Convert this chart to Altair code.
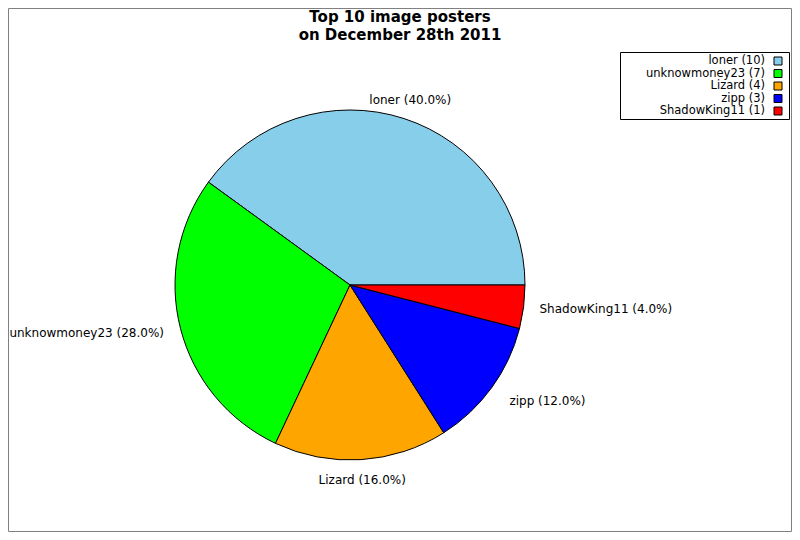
import math
import altair as alt
import pandas as pd

names = ["loner", "unknowmoney23", "Lizard", "zipp", "ShadowKing11"]
counts = [10, 7, 4, 3, 1]
colors = ["#87CEEB", "#00FF00", "#FFA500", "#0000FF", "#FF0000"]
title_lines = ["Top 10 image posters", "on December 28th 2011"]

total = sum(counts)
df = pd.DataFrame({
    "name": names,
    "count": counts,
    "pie_label": [f"{n} ({100 * c / total:.1f}%)" for n, c in zip(names, counts)],
    "legend_label": [f"{n} ({c})" for n, c in zip(names, counts)],
})

FONT = "DejaVu Sans"
CX, CY, R = 342, 277, 175

theta_scale = alt.Scale(domain=[0, total], range=[math.pi / 2, math.pi / 2 + 2 * math.pi])
color = alt.Color("name:N", scale=alt.Scale(domain=names, range=colors), legend=None)

base = alt.Chart(df).transform_window(
    cum="sum(count)",
    sort=[alt.SortField("count", order="ascending")],
    frame=[None, 0],
).transform_calculate(
    start="datum.cum - datum.count",
    mid="datum.cum - datum.count / 2",
)

arcs = base.mark_arc(radius=R, stroke="black", strokeWidth=1).encode(
    theta=alt.Theta("start:Q", scale=theta_scale),
    theta2="cum:Q",
    color=color,
    x=alt.value(CX),
    y=alt.value(CY),
)


def label_layer(members, align, radius):
    return base.transform_filter(
        alt.FieldOneOfPredicate(field="name", oneOf=members)
    ).mark_text(
        radius=radius, align=align, baseline="middle", font=FONT, fontSize=12, color="black"
    ).encode(
        theta=alt.Theta("mid:Q", scale=theta_scale),
        text="pie_label:N",
        x=alt.value(CX),
        y=alt.value(CY),
    )


labels_c = label_layer(["loner", "Lizard"], "center", 195)
labels_r = label_layer(["unknowmoney23"], "right", 192)
labels_l1 = label_layer(["zipp"], "left", 197)
labels_l2 = label_layer(["ShadowKing11"], "left", 191)

one = alt.Chart(pd.DataFrame({"k": [0]}))

frame = one.mark_rect(fill="white", stroke="#808080", strokeWidth=1).encode(
    x=alt.value(0.5), x2=alt.value(783.5), y=alt.value(0.5), y2=alt.value(523.5)
)

legend_box = one.mark_rect(fill="white", stroke="black", strokeWidth=1).encode(
    x=alt.value(612.5), x2=alt.value(781.5), y=alt.value(44.5), y2=alt.value(111.5)
)

leg_y = alt.Y("name:N", sort=names, scale=alt.Scale(range=[53, 103], padding=0), axis=None)

legend_text = alt.Chart(df).mark_text(
    align="right", baseline="middle", font=FONT, fontSize=11.5, color="black"
).encode(
    x=alt.value(757),
    y=leg_y,
    text="legend_label:N",
)

legend_sw = alt.Chart(df).mark_point(
    shape="square", filled=True, size=64, stroke="black", strokeWidth=1, opacity=1
).encode(
    x=alt.value(770),
    y=leg_y,
    color=color,
)

title = one.mark_text(
    text=title_lines, align="center", baseline="alphabetic", font=FONT,
    fontSize=15, fontWeight="bold", lineHeight=18, color="black"
).encode(x=alt.value(392), y=alt.value(14))

chart = alt.layer(
    frame, arcs, labels_c, labels_r, labels_l1, labels_l2, legend_box, legend_text, legend_sw, title
).properties(
    width=784, height=524, autosize="none", padding=0, background="white"
).configure_view(strokeWidth=0)

chart.save("out.html", embed_options={"renderer": "svg", "actions": False})
